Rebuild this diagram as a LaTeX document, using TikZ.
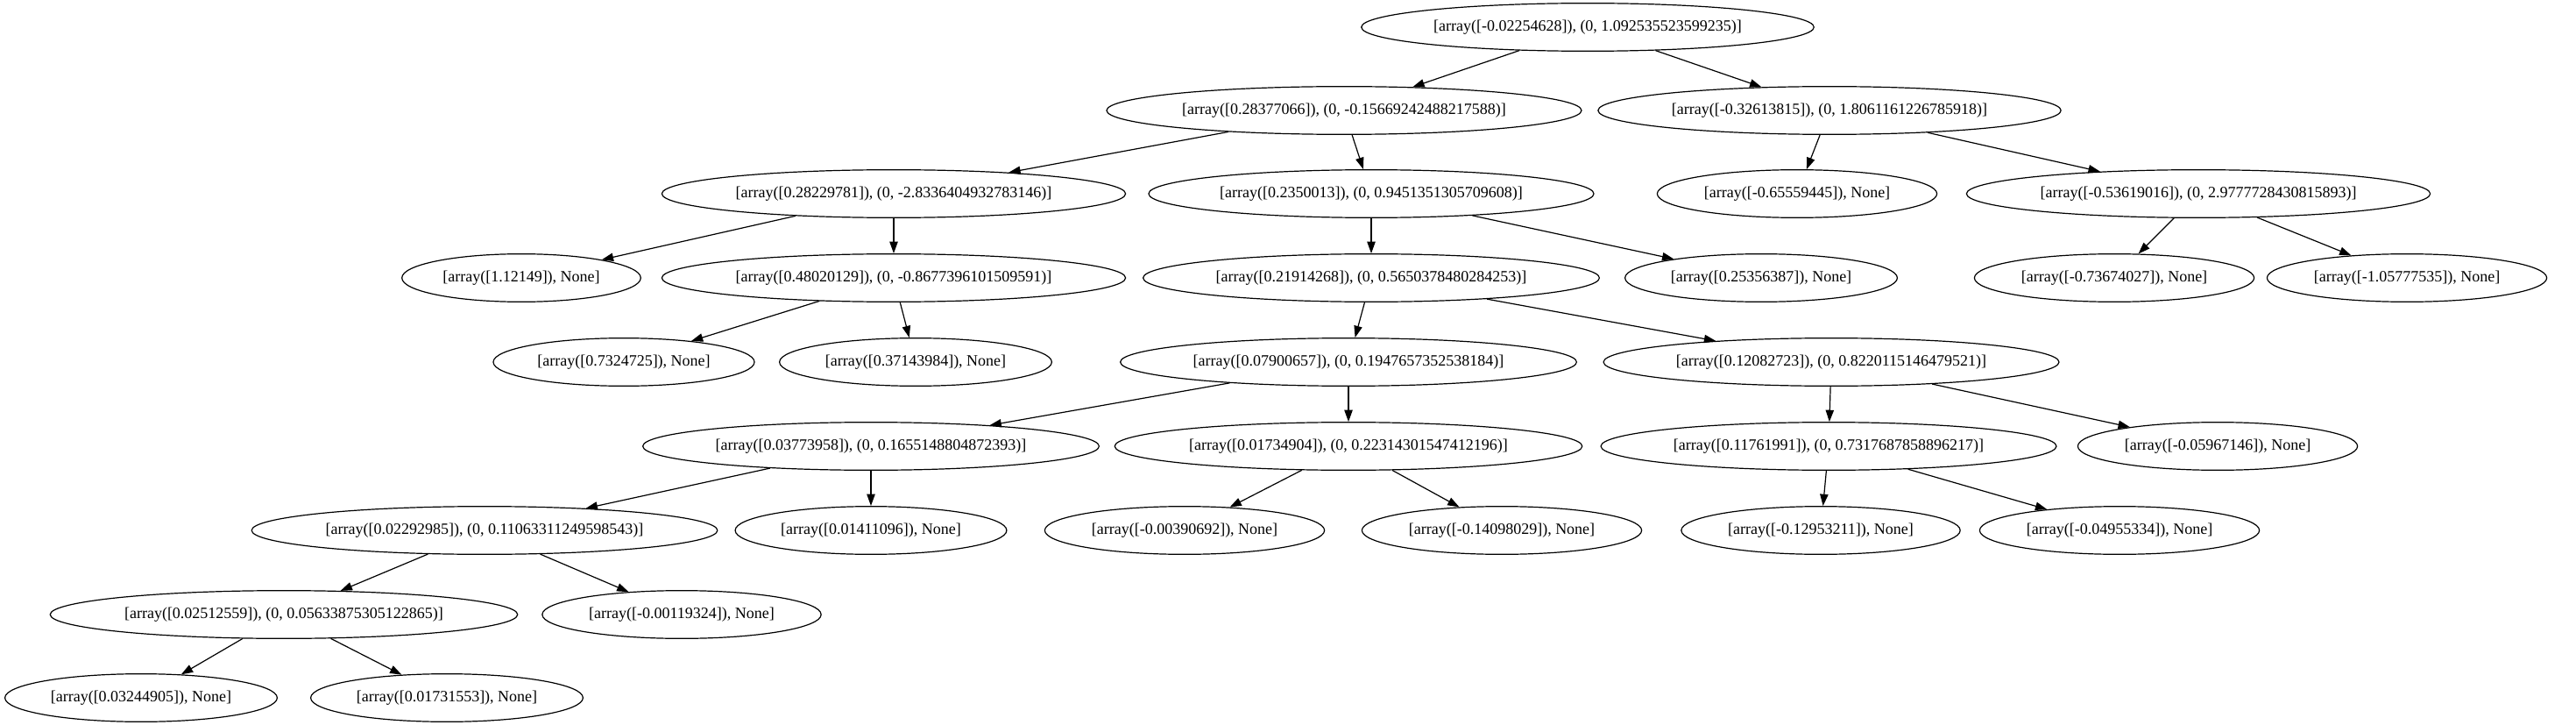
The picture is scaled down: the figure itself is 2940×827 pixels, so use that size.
\documentclass[tikz,border=0pt]{standalone}
\usepackage{fontspec}
\setmainfont{Liberation Serif}
\usepackage{tikz}
\usetikzlibrary{arrows.meta, shapes.geometric}

\begin{document}
\begin{tikzpicture}[
  x=0.75pt, y=-0.75pt,
  >={Triangle[length=10pt, width=7pt]},
  tnode/.style={draw, ellipse, line width=0.9pt, inner xsep=5pt, inner ysep=0pt,
    minimum height=41pt, font=\fontsize{13.5}{16}\selectfont},
  edge/.style={->, line width=0.9pt}
]
\useasboundingbox (0,0) rectangle (2940,827);
% tree, top to bottom
\node[tnode] (R0) at (1812,31) {[array([-0.02254628]), (0, 1.092535523599235)]};
\node[tnode] (A) at (1534,126) {[array([0.28377066]), (0, -0.15669242488217588)]};
\node[tnode] (B) at (2088,126) {[array([-0.32613815]), (0, 1.8061161226785918)]};
\node[tnode] (C) at (1020,221) {[array([0.28229781]), (0, -2.8336404932783146)]};
\node[tnode] (D) at (1565,221) {[array([0.2350013]), (0, 0.9451351305709608)]};
\node[tnode] (E) at (2051,221) {[array([-0.65559445]), None]};
\node[tnode] (F) at (2509,221) {[array([-0.53619016]), (0, 2.9777728430815893)]};
\node[tnode] (G) at (595,317) {[array([1.12149]), None]};
\node[tnode] (H) at (1020,317) {[array([0.48020129]), (0, -0.8677396101509591)]};
\node[tnode] (I) at (1565,317) {[array([0.21914268]), (0, 0.5650378480284253)]};
\node[tnode] (J) at (2010,317) {[array([0.25356387]), None]};
\node[tnode] (K) at (2413,317) {[array([-0.73674027]), None]};
\node[tnode] (L) at (2747,317) {[array([-1.05777535]), None]};
\node[tnode] (M) at (712,413) {[array([0.7324725]), None]};
\node[tnode] (N) at (1045,413) {[array([0.37143984]), None]};
\node[tnode] (O) at (1539,413) {[array([0.07900657]), (0, 0.1947657352538184)]};
\node[tnode] (P) at (2090,413) {[array([0.12082723]), (0, 0.8220115146479521)]};
\node[tnode] (Q) at (994,509) {[array([0.03773958]), (0, 0.1655148804872393)]};
\node[tnode] (R) at (1539,509) {[array([0.01734904]), (0, 0.22314301547412196)]};
\node[tnode] (S) at (2087,509) {[array([0.11761991]), (0, 0.7317687858896217)]};
\node[tnode] (T) at (2531,509) {[array([-0.05967146]), None]};
\node[tnode] (U) at (553,605) {[array([0.02292985]), (0, 0.11063311249598543)]};
\node[tnode] (V) at (994,605) {[array([0.01411096]), None]};
\node[tnode] (W) at (1352,605) {[array([-0.00390692]), None]};
\node[tnode] (X) at (1714,605) {[array([-0.14098029]), None]};
\node[tnode] (Y) at (2078,605) {[array([-0.12953211]), None]};
\node[tnode] (Z) at (2419,605) {[array([-0.04955334]), None]};
\node[tnode] (U1) at (324,701) {[array([0.02512559]), (0, 0.05633875305122865)]};
\node[tnode] (U2) at (778,701) {[array([-0.00119324]), None]};
\node[tnode] (U11) at (161,796) {[array([0.03244905]), None]};
\node[tnode] (U12) at (510,796) {[array([0.01731553]), None]};
\draw[edge] (R0) -- (A);
\draw[edge] (R0) -- (B);
\draw[edge] (A) -- (C);
\draw[edge] (A) -- (D);
\draw[edge] (B) -- (E);
\draw[edge] (B) -- (F);
\draw[edge] (C) -- (G);
\draw[edge] (C) -- (H);
\draw[edge] (D) -- (I);
\draw[edge] (D) -- (J);
\draw[edge] (F) -- (K);
\draw[edge] (F) -- (L);
\draw[edge] (H) -- (M);
\draw[edge] (H) -- (N);
\draw[edge] (I) -- (O);
\draw[edge] (I) -- (P);
\draw[edge] (O) -- (Q);
\draw[edge] (O) -- (R);
\draw[edge] (P) -- (S);
\draw[edge] (P) -- (T);
\draw[edge] (Q) -- (U);
\draw[edge] (Q) -- (V);
\draw[edge] (R) -- (W);
\draw[edge] (R) -- (X);
\draw[edge] (S) -- (Y);
\draw[edge] (S) -- (Z);
\draw[edge] (U) -- (U1);
\draw[edge] (U) -- (U2);
\draw[edge] (U1) -- (U11);
\draw[edge] (U1) -- (U12);
\end{tikzpicture}
\end{document}
